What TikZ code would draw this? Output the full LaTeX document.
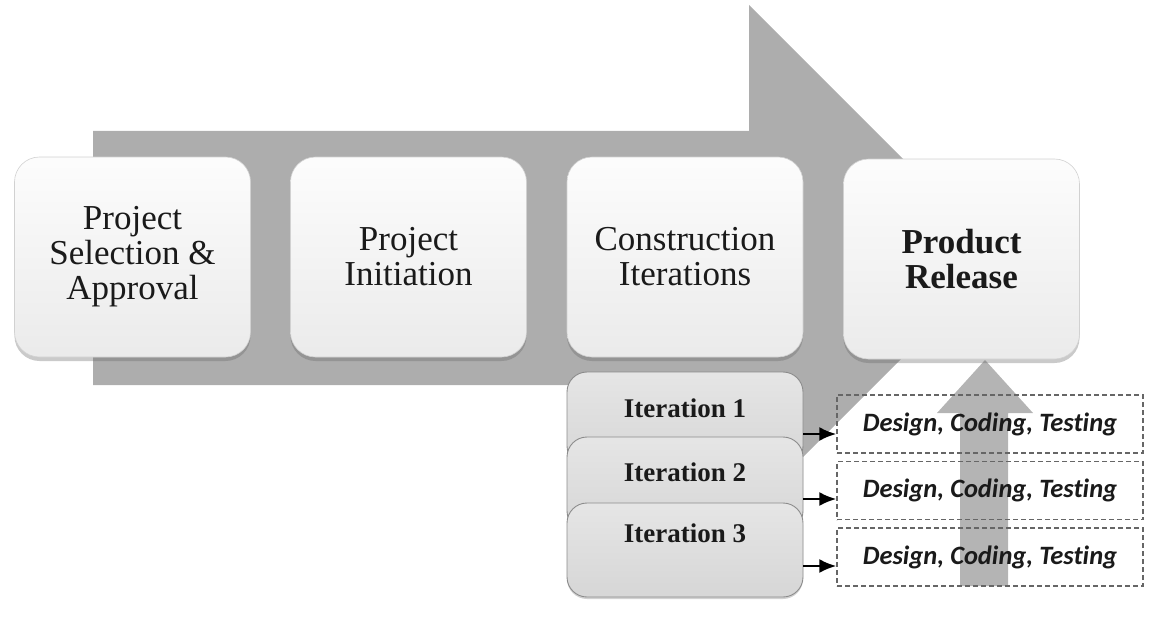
\documentclass[tikz,border=0pt]{standalone}
\usepackage{fontspec}
\setmainfont{Liberation Serif}
\newfontfamily\dcfont[Ligatures=NoCommon]{Carlito}
\usetikzlibrary{shadows,arrows.meta,calc}
\definecolor{arrowgray}{HTML}{ADADAD}
\definecolor{uparrowgray}{HTML}{B4B4B4}
\definecolor{txt}{HTML}{1A1A1A}
\tikzset{
  mainbox/.style={rounded corners=25pt, minimum width=236pt, minimum height=200pt,
    top color=white!99!black, bottom color=white!92!black, draw=white!82!black, line width=0.6pt,
    drop shadow={shadow xshift=0pt, shadow yshift=-4pt, opacity=0.35, fill=black!60},
    align=center, text=txt, font=\fontsize{35}{35}\selectfont, inner sep=0pt},
  iterbox/.style={rounded corners=20pt, minimum width=236pt, minimum height=94pt,
    top color=white!90!black, bottom color=white!84!black, draw=white!55!black, line width=0.9pt,
    drop shadow={shadow xshift=0pt, shadow yshift=-2pt, opacity=0.3, fill=black!60}},
  itertext/.style={text=txt, font=\fontsize{27}{27}\selectfont\bfseries, inner sep=0pt},
  dashbox/.style={draw=white!40!black, dashed, dash pattern=on 5pt off 3pt, line width=1.3pt,
    minimum width=306pt, minimum height=58pt, text=txt,
    font=\dcfont\fontsize{26.5}{26.5}\selectfont\bfseries\itshape, inner sep=0pt},
  smallarr/.style={-{Latex[length=17pt,width=14pt]}, line width=2.4pt, black},
}
\begin{document}
\begin{tikzpicture}[x=1pt,y=-1pt]
\useasboundingbox (0,0) rectangle (1161,623);
% big process arrow
\fill[arrowgray] (93,131) -- (749,131) -- (749,5) -- (1002,258) -- (749,511) -- (749,385) -- (93,385) -- cycle;
% release up arrow
\fill[uparrowgray] (960,586) -- (960,413) -- (937,413) -- (985,360) -- (1033,413) -- (1008,413) -- (1008,586) -- cycle;
% phase boxes
\node[mainbox] (psa) at (132.5,257) {Project\\Selection \&\\Approval};
\node[mainbox] (pi) at (408.5,257) {Project\\Initiation};
\node[mainbox] (ci) at (685,257) {Construction\\Iterations};
\node[mainbox, font=\fontsize{35}{35}\selectfont\bfseries] (pr) at (961.5,259) {Product\\Release};
% iteration boxes
\node[iterbox] (it1) at (685,419) {};
\node[itertext] (it1t) at (685,408) {Iteration 1};
\node[iterbox] (it2) at (685,484) {};
\node[itertext] (it2t) at (685,472) {Iteration 2};
\node[iterbox] (it3) at (685,550) {};
\node[itertext] (it3t) at (685,533) {Iteration 3};
% dashed activity boxes
\node[dashbox] (d1) at (990,424) {Design, Coding, Testing};
\node[dashbox] (d2) at (990,490.5) {Design, Coding, Testing};
\node[dashbox] (d3) at (990,557) {Design, Coding, Testing};
% small arrows
\coordinate (a1) at ([yshift=-15pt]it1.east);
\coordinate (a2) at ([yshift=-15pt]it2.east);
\coordinate (a3) at ([yshift=-16pt]it3.east);
\draw[smallarr] (a1) -- (a1 -| d1.west);
\draw[smallarr] (a2) -- (a2 -| d2.west);
\draw[smallarr] (a3) -- (a3 -| d3.west);
\end{tikzpicture}
\end{document}
